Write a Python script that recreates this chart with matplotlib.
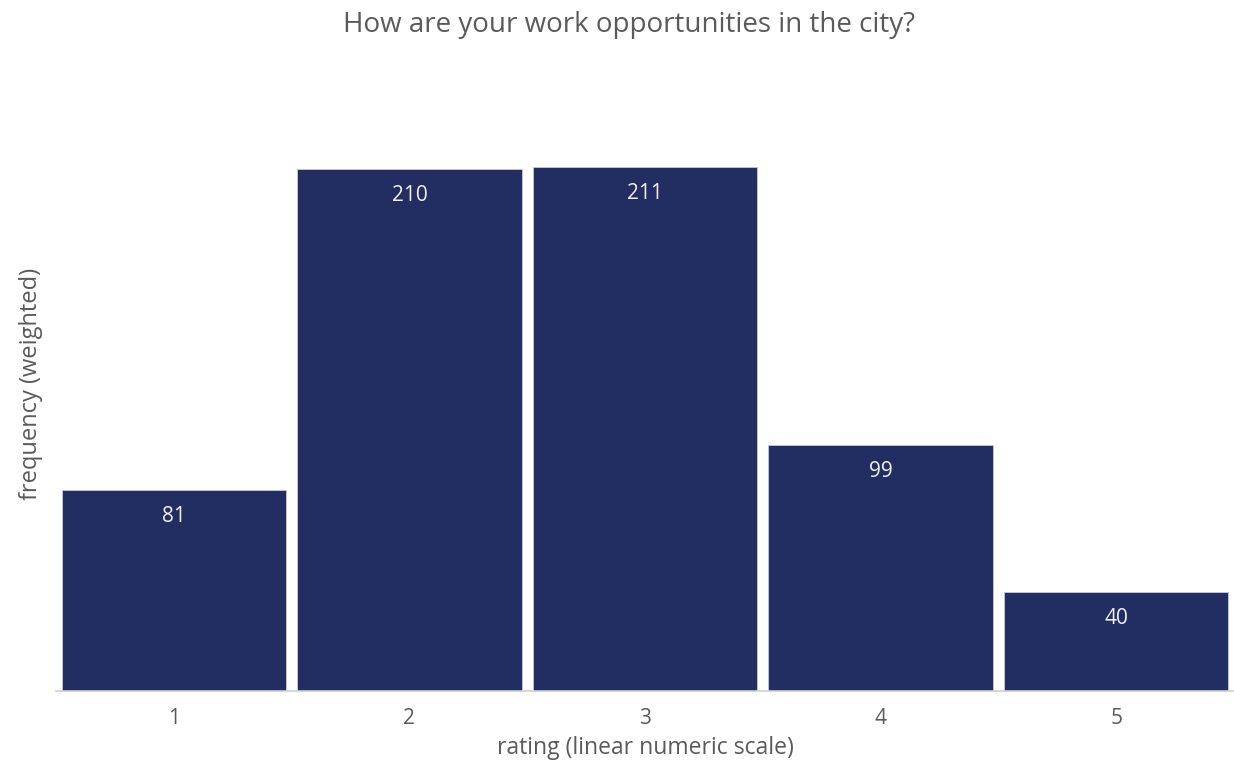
import matplotlib.pyplot as plt

# Survey answers: rating vs weighted frequency
ratings = [1, 2, 3, 4, 5]
counts = [81, 210, 211, 99, 40]
tick_labels = ['1', '2', '3', '4', '5']

bar_color = '#222d62'
text_gray = '#5a5a5a'

plt.rcParams['font.family'] = ['Open Sans', 'DejaVu Sans']

fig = plt.figure(figsize=(12.34, 7.63), dpi=100)
ax = fig.add_axes([0.0454, 0.0944, 0.9546, 0.7746])

bars = ax.bar(ratings, counts, width=0.952, color=bar_color,
              edgecolor='#c8cad6', linewidth=0.6)

# value labels sit just inside the top of each bar
for rect, val in zip(bars, counts):
    ax.annotate(str(val), (rect.get_x() + rect.get_width() / 2, val),
                xytext=(0, -19), textcoords='offset points',
                ha='center', va='center', color='#f0f0f4', fontsize=15)

ax.set_xlim(0.5, 5.5)
ax.set_ylim(0, 238)
ax.set_xticks(ratings)
ax.set_xticklabels(tick_labels)
ax.set_yticks([])
ax.tick_params(axis='x', length=0, pad=12, labelsize=15, labelcolor=text_gray)

for side in ['top', 'right', 'left']:
    ax.spines[side].set_visible(False)
ax.spines['bottom'].set_color('#d0d0d0')
ax.spines['bottom'].set_linewidth(1.2)

ax.set_xlabel('rating (linear numeric scale)', fontsize=16.5, color=text_gray, labelpad=5)
ax.set_ylabel('frequency (weighted)', fontsize=17, color=text_gray)
ax.yaxis.set_label_coords(-0.011, 0.52)

fig.text(0.5095, 0.967, 'How are your work opportunities in the city?',
         ha='center', va='center', fontsize=20, color=text_gray)

fig.savefig('out.png', dpi=100)
